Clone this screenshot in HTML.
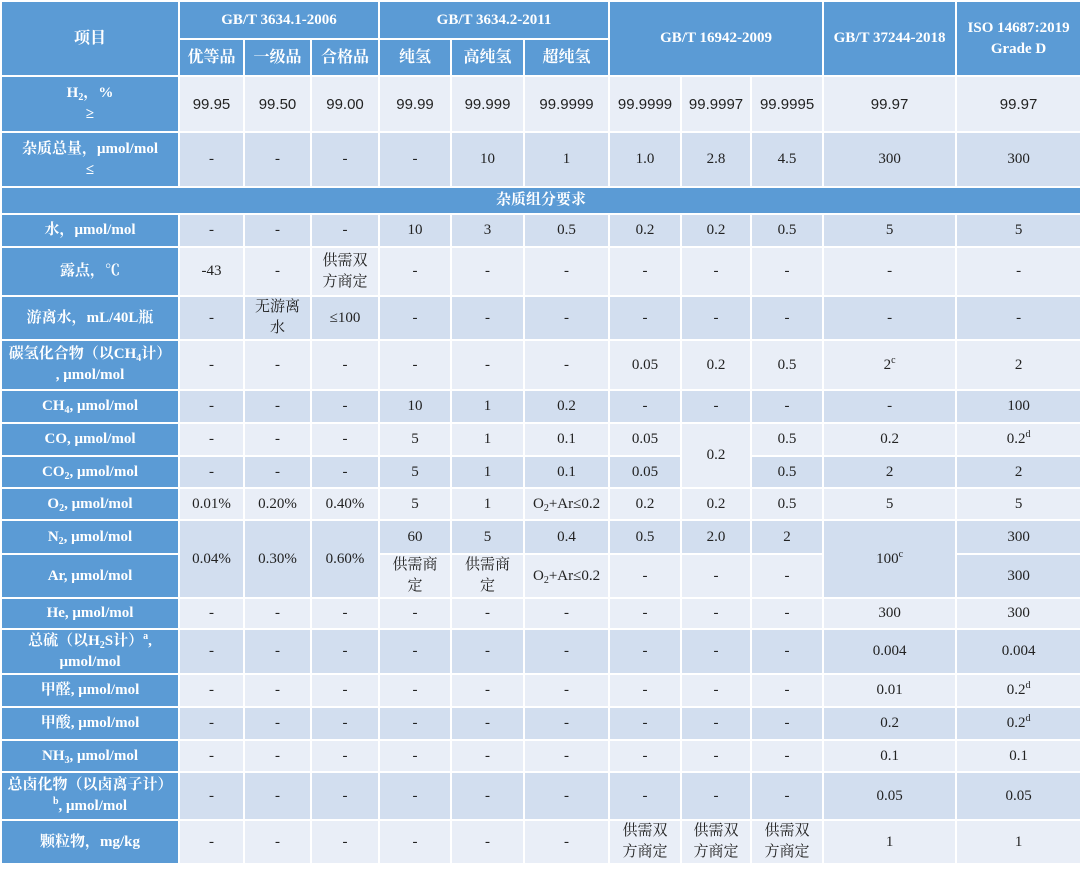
<!DOCTYPE html><html><head><meta charset="utf-8"><style>
body{margin:0;background:#fff;width:1080px;height:869px;overflow:hidden}
table{border-collapse:collapse;table-layout:fixed;width:1080px;font-family:"Liberation Serif","Noto Serif CJK SC",serif;font-size:15px;color:#222}
td{border:2px solid #fff;padding:0;text-align:center;vertical-align:middle;line-height:21px;overflow:hidden}
.h{background:#5B9BD5;color:#fff;font-weight:bold}
.l td:not(.h){background:#E9EEF7}
.d td:not(.h){background:#D2DEEF}
td.L{background:#E9EEF7!important}td.D{background:#D2DEEF!important}
.s td:not(.h){font-family:"Liberation Sans","Noto Sans CJK SC",sans-serif;font-size:15px}
.b{font-size:16px}
sub{font-size:10px;vertical-align:-3px;line-height:0}sup{font-size:10px;line-height:0}
</style></head><body><table>
<colgroup><col style="width:178px"><col style="width:65px"><col style="width:67px"><col style="width:68px"><col style="width:72px"><col style="width:73px"><col style="width:85px"><col style="width:72px"><col style="width:70px"><col style="width:72px"><col style="width:133px"><col style="width:125px"></colgroup>
<tr style="height:38px"><td class="h b" rowspan="2">项目</td><td class="h" colspan="3">GB/T 3634.1-2006</td><td class="h" colspan="3">GB/T 3634.2-2011</td><td class="h" colspan="3" rowspan="2">GB/T 16942-2009</td><td class="h" rowspan="2">GB/T 37244-2018</td><td class="h" rowspan="2">ISO 14687:2019<br>Grade D</td></tr>
<tr style="height:37px"><td class="h b">优等品</td><td class="h b">一级品</td><td class="h b">合格品</td><td class="h b">纯氢</td><td class="h b">高纯氢</td><td class="h b">超纯氢</td></tr>
<tr class="l s" style="height:56px"><td class="h">H<sub>2</sub>，%<br>≥</td><td>99.95</td><td>99.50</td><td>99.00</td><td>99.99</td><td>99.999</td><td>99.9999</td><td>99.9999</td><td>99.9997</td><td>99.9995</td><td>99.97</td><td>99.97</td></tr>
<tr class="d" style="height:55px"><td class="h">杂质总量，μmol/mol<br>≤</td><td>-</td><td>-</td><td>-</td><td>-</td><td>10</td><td>1</td><td>1.0</td><td>2.8</td><td>4.5</td><td>300</td><td>300</td></tr>
<tr style="height:27px"><td class="h" colspan="12">杂质组分要求</td></tr>
<tr class="d" style="height:33px"><td class="h">水，μmol/mol</td><td>-</td><td>-</td><td>-</td><td>10</td><td>3</td><td>0.5</td><td>0.2</td><td>0.2</td><td>0.5</td><td>5</td><td>5</td></tr>
<tr class="l" style="height:49px"><td class="h">露点，℃</td><td>-43</td><td>-</td><td>供需双<br>方商定</td><td>-</td><td>-</td><td>-</td><td>-</td><td>-</td><td>-</td><td>-</td><td>-</td></tr>
<tr class="d" style="height:43px"><td class="h">游离水，mL/40L瓶</td><td>-</td><td>无游离<br>水</td><td>≤100</td><td>-</td><td>-</td><td>-</td><td>-</td><td>-</td><td>-</td><td>-</td><td>-</td></tr>
<tr class="l" style="height:50px"><td class="h">碳氢化合物（以CH<sub>4</sub>计）<br>, μmol/mol</td><td>-</td><td>-</td><td>-</td><td>-</td><td>-</td><td>-</td><td>0.05</td><td>0.2</td><td>0.5</td><td>2<sup>c</sup></td><td>2</td></tr>
<tr class="d" style="height:33px"><td class="h">CH<sub>4</sub>, μmol/mol</td><td>-</td><td>-</td><td>-</td><td>10</td><td>1</td><td>0.2</td><td>-</td><td>-</td><td>-</td><td>-</td><td>100</td></tr>
<tr class="l" style="height:33px"><td class="h">CO, μmol/mol</td><td>-</td><td>-</td><td>-</td><td>5</td><td>1</td><td>0.1</td><td>0.05</td><td rowspan="2" class="L">0.2</td><td>0.5</td><td>0.2</td><td>0.2<sup>d</sup></td></tr>
<tr class="d" style="height:32px"><td class="h">CO<sub>2</sub>, μmol/mol</td><td>-</td><td>-</td><td>-</td><td>5</td><td>1</td><td>0.1</td><td>0.05</td><td>0.5</td><td>2</td><td>2</td></tr>
<tr class="l" style="height:32px"><td class="h">O<sub>2</sub>, μmol/mol</td><td>0.01%</td><td>0.20%</td><td>0.40%</td><td>5</td><td>1</td><td>O<sub>2</sub>+Ar≤0.2</td><td>0.2</td><td>0.2</td><td>0.5</td><td>5</td><td>5</td></tr>
<tr class="d" style="height:34px"><td class="h">N<sub>2</sub>, μmol/mol</td><td rowspan="2">0.04%</td><td rowspan="2">0.30%</td><td rowspan="2">0.60%</td><td>60</td><td>5</td><td>0.4</td><td>0.5</td><td>2.0</td><td>2</td><td rowspan="2">100<sup>c</sup></td><td>300</td></tr>
<tr class="l" style="height:44px"><td class="h">Ar, μmol/mol</td><td>供需商<br>定</td><td>供需商<br>定</td><td>O<sub>2</sub>+Ar≤0.2</td><td>-</td><td>-</td><td>-</td><td class="D">300</td></tr>
<tr class="l" style="height:31px"><td class="h">He, μmol/mol</td><td>-</td><td>-</td><td>-</td><td>-</td><td>-</td><td>-</td><td>-</td><td>-</td><td>-</td><td>300</td><td>300</td></tr>
<tr class="d" style="height:45px"><td class="h">总硫（以H<sub>2</sub>S计）<sup>a</sup>,<br>μmol/mol</td><td>-</td><td>-</td><td>-</td><td>-</td><td>-</td><td>-</td><td>-</td><td>-</td><td>-</td><td>0.004</td><td>0.004</td></tr>
<tr class="l" style="height:33px"><td class="h">甲醛, μmol/mol</td><td>-</td><td>-</td><td>-</td><td>-</td><td>-</td><td>-</td><td>-</td><td>-</td><td>-</td><td>0.01</td><td>0.2<sup>d</sup></td></tr>
<tr class="d" style="height:33px"><td class="h">甲酸, μmol/mol</td><td>-</td><td>-</td><td>-</td><td>-</td><td>-</td><td>-</td><td>-</td><td>-</td><td>-</td><td>0.2</td><td>0.2<sup>d</sup></td></tr>
<tr class="l" style="height:32px"><td class="h">NH<sub>3</sub>, μmol/mol</td><td>-</td><td>-</td><td>-</td><td>-</td><td>-</td><td>-</td><td>-</td><td>-</td><td>-</td><td>0.1</td><td>0.1</td></tr>
<tr class="d" style="height:48px"><td class="h">总卤化物（以卤离子计）<br><sup>b</sup>, μmol/mol</td><td>-</td><td>-</td><td>-</td><td>-</td><td>-</td><td>-</td><td>-</td><td>-</td><td>-</td><td>0.05</td><td>0.05</td></tr>
<tr class="l" style="height:44px"><td class="h">颗粒物，mg/kg</td><td>-</td><td>-</td><td>-</td><td>-</td><td>-</td><td>-</td><td>供需双<br>方商定</td><td>供需双<br>方商定</td><td>供需双<br>方商定</td><td>1</td><td>1</td></tr>
</table></body></html>
